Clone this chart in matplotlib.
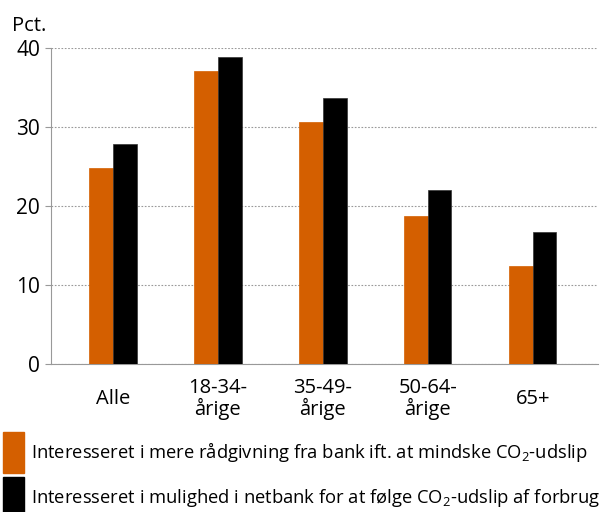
import matplotlib
matplotlib.use("Agg")
import matplotlib.pyplot as plt
import numpy as np
from matplotlib.patches import Rectangle

categories = ["Alle", "18-34-\nårige", "35-49-\nårige", "50-64-\nårige", "65+"]
series1 = [24.8, 37.1, 30.6, 18.7, 12.4]
series2 = [27.8, 38.9, 33.7, 22.0, 16.7]
label1 = "Interesseret i mere rådgivning fra bank ift. at mindske CO$_2$-udslip"
label2 = "Interesseret i mulighed i netbank for at følge CO$_2$-udslip af forbrug"
yticks = [0, 10, 20, 30, 40]

plt.rcParams['font.family'] = ['Open Sans', 'DejaVu Sans']
plt.rcParams['mathtext.fontset'] = 'custom'
plt.rcParams['mathtext.rm'] = 'Open Sans'

orange = "#D45F00"
fig = plt.figure(figsize=(6.03, 5.12), dpi=100)
ax = fig.add_axes([0.0846, 0.289, 0.907, 0.617])

x = np.arange(len(categories))
w = 0.225
ax.bar(x - w/2, series1, width=w, color=orange, edgecolor=orange, linewidth=0.5, zorder=3)
ax.bar(x + w/2, series2, width=w, color="black", edgecolor="#333333", linewidth=0.5, zorder=3)

ax.set_ylim(0, 40)
ax.set_xlim(-0.59, 4.62)
ax.set_yticks(yticks)
ax.set_yticklabels([str(v) for v in yticks], fontsize=15)
ax.set_xticks(x)
ax.set_xticklabels(categories, fontsize=14.5, linespacing=1.0, va="center")
ax.tick_params(axis='x', length=0, pad=25)
ax.tick_params(axis='y', length=4, color="#999999", pad=4)
ax.yaxis.grid(True, linestyle=(0, (1.5, 1.5)), color="#999999", linewidth=0.8, zorder=0)
for s in ["top", "right"]:
    ax.spines[s].set_visible(False)
ax.spines["left"].set_color("#999999")
ax.spines["bottom"].set_color("#999999")

fig.text(12/603, 1-26/512, "Pct.", fontsize=14.5, va="center", ha="left")

# legend
fig.patches.append(Rectangle((3/603, 1-473/512), 21/603, 41/512, transform=fig.transFigure, color=orange))
fig.patches.append(Rectangle((3/603, 0), 21/603, 35/512, transform=fig.transFigure, color="black"))
fig.text(31/603, 1-452/512, label1, fontsize=13.2, va="center", ha="left")
fig.text(31/603, 1-498/512, label2, fontsize=13.2, va="center", ha="left")

fig.savefig("out.png", dpi=100)
